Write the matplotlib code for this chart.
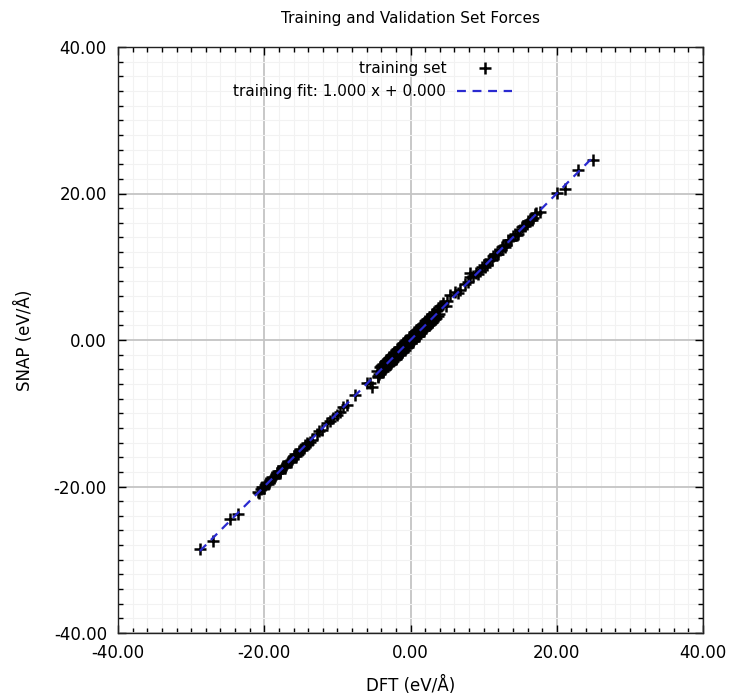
import matplotlib
matplotlib.use("Agg")
import matplotlib.pyplot as plt
from matplotlib.ticker import MultipleLocator, FormatStrFormatter

plt.rcParams['font.family'] = ['DejaVu Sans']

title = "Training and Validation Set Forces"
xlabel = "DFT (eV/Å)"
ylabel = "SNAP (eV/Å)"

dft_low = [-28.8, -27.0, -24.7, -23.6]
snap_low = [-28.5, -27.4, -24.4, -23.7]

dft_band1 = [-20.9, -20.7, -20.5, -20.3, -20.1, -19.9, -19.7, -19.5, -19.3, -19.1,
             -18.9, -18.7, -18.5, -18.3, -18.1, -17.9, -17.8, -17.6, -17.4, -17.2,
             -17.0, -16.8, -16.6, -16.4, -16.2, -16.0, -15.8, -15.6, -15.4, -15.2,
             -15.0, -14.8, -14.6, -14.4, -14.2, -14.0, -13.8, -13.5,
             -12.8, -12.5, -12.1, -11.4, -11.0, -10.6, -10.1, -9.6, -9.2, -8.7,
             -7.6, -6.0, -5.5, -5.3]
snap_band1 = [-20.7, -20.9, -20.4, -20.1, -20.2, -19.8, -19.5, -19.7, -19.4, -19.0,
              -18.7, -18.9, -18.6, -18.2, -17.9, -18.1, -17.9, -17.5, -17.2, -17.4,
              -17.1, -16.7, -16.5, -16.6, -16.3, -15.9, -15.6, -15.8, -15.5, -15.1,
              -14.9, -15.0, -14.7, -14.3, -14.1, -14.2, -13.9, -13.6,
              -12.9, -12.4, -12.3, -11.3, -11.1, -10.6, -10.3, -9.8, -9.1, -8.9,
              -7.5, -5.9, -5.9, -6.4]

dft_core = [-4.6, -4.4, -4.2, -4.0, -3.8, -3.6, -3.4, -3.2, -3.0, -2.8,
            -2.6, -2.4, -2.2, -2.0, -1.8, -1.6, -1.4, -1.2, -1.0, -0.8,
            -0.6, -0.4, -0.2, 0.0, 0.2, 0.4, 0.6, 0.8, 1.0, 1.2,
            1.4, 1.6, 1.8, 2.0, 2.2, 2.4, 2.6, 2.8, 3.0, 3.3,
            3.6, 3.9, 4.2,
            -4.5, -4.1, -3.7, -3.3, -2.9, -2.5, -2.1, -1.7, -1.3, -0.9,
            -0.5, -0.1, 0.3, 0.7, 1.1, 1.5, 1.9, 2.3, 2.7, 3.1, 3.5, 3.8,
            -4.3, -3.9, -3.5, -3.1, -2.7, -2.3, -1.9, -1.5, -1.1, -0.7,
            -0.3, 0.1, 0.5, 0.9, 1.3, 1.7, 2.1, 2.5, 2.9, 3.2, 3.7, 4.0,
            -3.0, -2.0, -1.0, 0.0, 1.0, 2.0, 3.0, -3.5, -1.5, 0.5, 2.5]
snap_core = [-4.3, -4.9, -3.7, -4.4, -3.3, -4.0, -2.8, -3.6, -2.5, -3.3,
             -2.0, -2.9, -1.7, -2.5, -1.2, -2.1, -0.9, -1.7, -0.5, -1.3,
             0.0, -0.9, 0.3, -0.4, 0.7, 0.0, 1.1, 0.3, 1.5, 0.8,
             1.9, 1.2, 2.3, 1.6, 2.7, 2.0, 3.1, 2.4, 3.5, 2.9,
             4.1, 3.5, 4.7,
             -5.0, -3.6, -4.2, -2.8, -3.4, -2.0, -2.6, -1.2, -1.8, -0.4,
             -1.0, 0.4, -0.2, 1.2, 0.6, 2.0, 1.4, 2.8, 2.2, 3.6, 3.0, 4.3,
             -4.6, -3.4, -3.9, -2.6, -3.1, -1.8, -2.3, -1.0, -1.5, -0.2,
             -0.7, 0.6, 0.1, 1.4, 0.9, 2.2, 1.7, 3.0, 2.5, 3.8, 3.3, 4.6,
             -2.4, -2.6, -0.4, 0.6, 0.5, 2.6, 2.5, -3.0, -1.1, 1.1, 2.1]

dft_band2 = [4.5, 5.0, 5.4, 6.1, 6.5, 6.8, 7.4, 8.1, 8.1, 8.6,
             9.0, 9.5, 10.0, 10.4, 10.9, 11.3, 11.8, 12.2, 12.7, 13.1,
             13.6, 14.0, 14.5, 15.0, 15.4, 15.9, 16.3, 16.8, 17.2, 17.7,
             10.2, 10.7, 11.1, 11.6, 12.0, 12.5, 12.9, 13.4, 13.8, 14.3,
             14.7, 15.2, 15.7, 16.1, 16.6, 17.0, 7.8, 9.2, 9.8, 4.8]
snap_band2 = [5.0, 5.3, 6.1, 6.6, 6.4, 6.8, 7.6, 8.6, 9.1, 8.7,
              9.2, 9.4, 10.2, 10.3, 11.0, 11.5, 11.7, 12.3, 12.8, 13.0,
              13.7, 14.2, 14.4, 15.0, 15.6, 15.8, 16.4, 16.7, 17.3, 17.5,
              10.0, 10.9, 10.9, 11.8, 11.8, 12.7, 12.7, 13.6, 13.6, 14.5,
              14.5, 15.4, 15.5, 16.3, 16.4, 17.2, 7.9, 9.0, 9.9, 4.6]

dft_high = [20.0, 21.1, 22.9, 25.0]
snap_high = [20.05, 20.6, 23.2, 24.6]

fit_slope = 1.000
fit_intercept = 0.000

dft = dft_low + dft_band1 + dft_core + dft_band2 + dft_high
snap = snap_low + snap_band1 + snap_core + snap_band2 + snap_high

fig = plt.figure(figsize=(7.30, 6.95), dpi=100)
ax = fig.add_axes([118/730, 1 - 633/695, 585/730, 586/695])

ax.set_xlim(-40, 40)
ax.set_ylim(-40, 40)

ax.xaxis.set_major_locator(MultipleLocator(20))
ax.yaxis.set_major_locator(MultipleLocator(20))
ax.xaxis.set_minor_locator(MultipleLocator(2))
ax.yaxis.set_minor_locator(MultipleLocator(2))
ax.xaxis.set_major_formatter(FormatStrFormatter('%.2f'))
ax.yaxis.set_major_formatter(FormatStrFormatter('%.2f'))

ax.grid(which='minor', color='#f2f2f2', linewidth=0.8)
ax.grid(which='major', color='#c4c4c4', linewidth=1.3)
ax.set_axisbelow(True)

ax.tick_params(which='both', direction='in', top=True, right=True, labelsize=12, colors='black')
ax.tick_params(which='major', length=6, width=1, pad=8)
ax.tick_params(which='minor', length=3.6, width=1)
for s in ax.spines.values():
    s.set_linewidth(1.0)
    s.set_color('#222222')

ax.plot(dft, snap, linestyle='none', marker='+', markersize=9,
        markeredgewidth=1.8, color='black', label='training set', zorder=3)

xfit = [min(dft), max(dft)]
yfit = [fit_slope * v + fit_intercept for v in xfit]
ax.plot(xfit, yfit, linestyle=(0, (4, 3)), color='#2a2ad0', linewidth=1.6,
        label='training fit: %.3f x + %.3f' % (fit_slope, fit_intercept), zorder=4)

leg = ax.legend(loc='upper right', bbox_to_anchor=((512-118)/585, (633-61)/586),
                markerfirst=False, frameon=False, fontsize=11, handlelength=3.6,
                handletextpad=0.7, labelspacing=0.55, borderpad=0, borderaxespad=0)

ax.set_title(title, fontsize=11, pad=17)
ax.set_xlabel(xlabel, fontsize=12, labelpad=10)
ax.set_ylabel(ylabel, fontsize=12, labelpad=14)

fig.savefig('out.png', dpi=100)
